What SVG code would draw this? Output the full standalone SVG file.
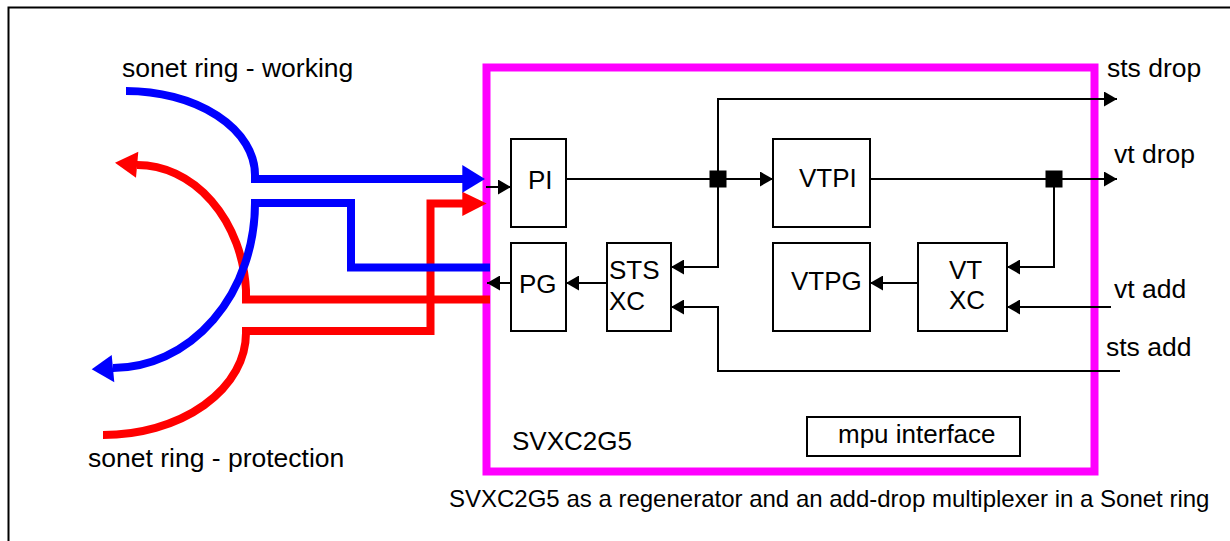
<svg xmlns="http://www.w3.org/2000/svg" width="1230" height="541" viewBox="0 0 1230 541">
<style>
text{font-family:"Liberation Sans",Arial,Helvetica,sans-serif;fill:#000;font-size:26px}
.lbl{font-size:26.5px}
.cap{font-size:24px}
.box{fill:#fff;stroke:#000;stroke-width:2}
.wire{fill:none;stroke:#000;stroke-width:2}
.red{fill:none;stroke:#ff0000;stroke-width:8;stroke-linejoin:miter}
.blue{fill:none;stroke:#0000ff;stroke-width:8;stroke-linejoin:miter}
</style>
<defs>
<marker id="ah" markerUnits="userSpaceOnUse" markerWidth="13" markerHeight="15" refX="13" refY="7.5" orient="auto">
<path d="M0,0 L13,7.5 L0,15 z" fill="#000"/>
</marker>
</defs>
<rect x="0" y="0" width="1230" height="541" fill="#fff"/>
<rect x="8.5" y="7.5" width="1240" height="560" fill="none" stroke="#000" stroke-width="2"/>

<g id="chip">
<rect x="486.5" y="67.5" width="608" height="404" fill="none" stroke="#ff00ff" stroke-width="8"/>
<text x="512" y="450">SVXC2G5</text>
</g>

<g id="mpu">
<rect class="box" x="807" y="417" width="213" height="39"/>
<text x="838" y="443">mpu interface</text>
</g>

<g id="PI">
<rect class="box" x="511" y="139" width="55" height="88"/>
<text x="528" y="189">PI</text>
</g>
<g id="PG">
<rect class="box" x="511" y="243" width="55" height="88"/>
<text x="519" y="293">PG</text>
</g>
<g id="STSXC">
<rect class="box" x="607" y="243" width="64" height="88"/>
<text x="609" y="279">STS</text>
<text x="609" y="310">XC</text>
</g>
<g id="VTPI">
<rect class="box" x="773" y="139" width="97" height="88"/>
<text x="799" y="187">VTPI</text>
</g>
<g id="VTPG">
<rect class="box" x="773" y="243" width="97" height="88"/>
<text x="791" y="290">VTPG</text>
</g>
<g id="VTXC">
<rect class="box" x="918" y="243" width="89" height="88"/>
<text x="949" y="279">VT</text>
<text x="949" y="309">XC</text>
</g>

<g id="connectors">
<path class="wire" d="M566,179 L773,179" marker-end="url(#ah)"/>
<path class="wire" d="M718,179 L718,99 L1117,99" marker-end="url(#ah)"/>
<path class="wire" d="M718,179 L718,267 L671,267" marker-end="url(#ah)"/>
<path class="wire" d="M1120,371 L718,371 L718,307 L671,307" marker-end="url(#ah)"/>
<path class="wire" d="M607,283 L566,283" marker-end="url(#ah)"/>
<path class="wire" d="M511,283 L487,283" marker-end="url(#ah)"/>
<path class="wire" d="M486,187 L511,187" marker-end="url(#ah)"/>
<path class="wire" d="M870,179 L1117,179" marker-end="url(#ah)"/>
<path class="wire" d="M1054,179 L1054,267 L1007,267" marker-end="url(#ah)"/>
<path class="wire" d="M1111,307 L1007,307" marker-end="url(#ah)"/>
<path class="wire" d="M918,283 L870,283" marker-end="url(#ah)"/>
<rect x="709.5" y="170.5" width="17" height="17" fill="#000"/>
<rect x="1045.5" y="170.5" width="17" height="17" fill="#000"/>
</g>

<g id="ring-protection">
<path class="red" d="M137,165 A109,134 0 0 1 246,290 L246,299.5 L490,299.5"/>
<polygon points="115,162.7 138.3,151.7 136,177.7" fill="#ff0000"/>
<path class="red" d="M103,435 A143,102 0 0 0 246,333 L246,331 L430.5,331 L430.5,203.5 L463,203.5"/>
<polygon points="486.7,203.5 462.3,191.7 462.3,216" fill="#ff0000"/>
</g>

<g id="ring-working">
<path class="blue" d="M126,91 A129,84 0 0 1 255,175 L255,179 L463,179"/>
<polygon points="485,179 462.3,165 462.3,192.7" fill="#0000ff"/>
<path class="blue" d="M490,267.5 L351,267.5 L351,203 L255,203 A142,165 0 0 1 113,368"/>
<polygon points="91.7,369.3 111.7,355 114.3,382.3" fill="#0000ff"/>
</g>

<g id="labels">
<text class="lbl" x="122" y="77">sonet ring - working</text>
<text class="lbl" x="88" y="467">sonet ring - protection</text>
<text class="lbl" x="1107" y="77">sts drop</text>
<text class="lbl" x="1114" y="163">vt drop</text>
<text class="lbl" x="1114" y="298">vt add</text>
<text class="lbl" x="1106" y="356">sts add</text>
<text class="cap" x="449" y="507">SVXC2G5 as a regenerator and an add-drop multiplexer in a Sonet ring</text>
</g>
</svg>
